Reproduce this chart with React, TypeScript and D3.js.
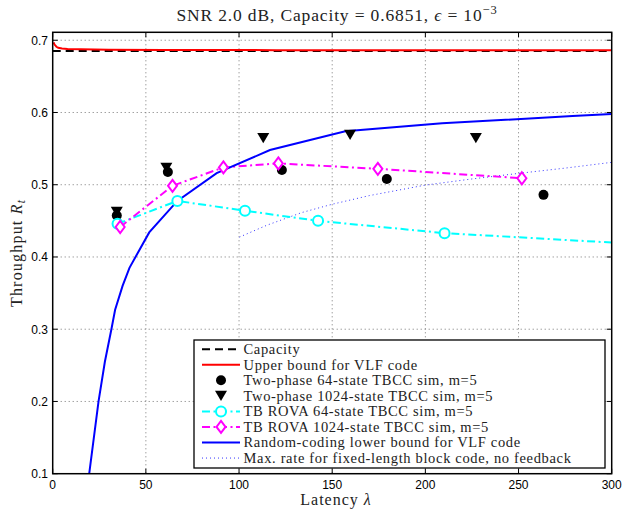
import React from "react";
import * as d3 from "d3";

// ---------- data ----------
const xTicks = [0, 50, 100, 150, 200, 250, 300];
const yTicks = [0.1, 0.2, 0.3, 0.4, 0.5, 0.6, 0.7];
const capacity = 0.6851;

const upperBoundX = [0.5, 1, 2, 3, 5, 8, 15, 30, 60, 120, 200, 300];
const upperBoundY = [0.697, 0.694, 0.691, 0.6895, 0.6885, 0.688, 0.6875, 0.687, 0.6866, 0.6863, 0.6861, 0.686];

const twoPhase64X = [34.4, 61.8, 123, 179.3, 263.4];
const twoPhase64Y = [0.4575, 0.5175, 0.5205, 0.508, 0.486];

const twoPhase1024X = [34.4, 61, 113, 159.6, 227.1];
const twoPhase1024Y = [0.4625, 0.5235, 0.5645, 0.569, 0.5645];

const rova64X = [34.8, 66.9, 103.2, 142.4, 210.3, 300];
const rova64Y = [0.446, 0.4776, 0.464, 0.45, 0.433, 0.42];
const rova64Markers = 5;

const rova1024X = [36.2, 64.3, 91.6, 121.1, 174.5, 251.8];
const rova1024Y = [0.4415, 0.4985, 0.524, 0.5295, 0.522, 0.509];

const rcBoundX = [18, 19.6, 24.6, 28, 31.5, 33.5, 37.5, 41.2, 51.8, 66.9, 88, 116.6, 157, 209, 279, 300];
const rcBoundY = [0.07, 0.1, 0.2, 0.255, 0.3, 0.327, 0.36, 0.385, 0.434, 0.4776, 0.516, 0.548, 0.574, 0.585, 0.595, 0.598];

const fixedLenX = [100.2, 115, 133.7, 150, 170, 200, 225, 251, 275, 300];
const fixedLenY = [0.4275, 0.444, 0.4615, 0.473, 0.485, 0.4995, 0.508, 0.516, 0.523, 0.531];

const legendLabels = [
  "Capacity",
  "Upper bound for VLF code",
  "Two-phase 64-state TBCC sim, m=5",
  "Two-phase 1024-state TBCC sim, m=5",
  "TB ROVA 64-state TBCC sim, m=5",
  "TB ROVA 1024-state TBCC sim, m=5",
  "Random-coding lower bound for VLF code",
  "Max. rate for fixed-length block code, no feedback",
];

// ---------- layout ----------
const W = 623;
const H = 510;
const L = 52.7;
const R = 611.7;
const T = 32.3;
const B = 473.7;

const SERIF = "'Liberation Serif', 'Times New Roman', serif";
const SANS = "'Liberation Sans', Arial, Helvetica, sans-serif";

const x = d3.scaleLinear().domain([0, 300]).range([L, R]);
const y = d3.scaleLinear().domain([0.1, 0.711]).range([B, T]);

const zip = (xs: number[], ys: number[]) => xs.map((v, i) => [v, ys[i]] as [number, number]);
const lineGen = d3
  .line<[number, number]>()
  .x((d) => x(d[0]))
  .y((d) => y(d[1]));

const DASH = "8 5";
const DASHDOT = "8 3.5 2 3.5";
const DOT = "1 3";

function Circle({ cx, cy, fill, stroke }: any) {
  return <circle cx={cx} cy={cy} r={5} fill={fill} stroke={stroke} strokeWidth={fill === "none" || fill === "white" ? 2 : 0} />;
}
function Tri({ cx, cy }: any) {
  const s = 6;
  const p = d3.path();
  p.moveTo(cx - s, cy - s * 0.85);
  p.lineTo(cx + s, cy - s * 0.85);
  p.lineTo(cx, cy + s * 0.85);
  p.closePath();
  return <path d={p.toString()} fill="black" />;
}
function Diamond({ cx, cy }: any) {
  const s = 6;
  const p = d3.path();
  p.moveTo(cx, cy - s);
  p.lineTo(cx + s * 0.75, cy);
  p.lineTo(cx, cy + s);
  p.lineTo(cx - s * 0.75, cy);
  p.closePath();
  return <path d={p.toString()} fill="white" stroke="#ff00ff" strokeWidth={2} />;
}

export default function App() {
  const lgX = 194;
  const lgY = 340;
  const lgW = 411;
  const lgH = 128;
  const rowY0 = 349.2;
  const rowStep = 15.55;
  const sx0 = 202;
  const sx1 = 240;
  const sxm = 221;
  const tx = 243.5;

  return (
    <div style={{ position: "absolute", left: 0, top: 0 }}>
      <svg width={W} height={H} style={{ display: "block", background: "white" }}>
        <defs>
          <clipPath id="plotclip">
            <rect x={L} y={T} width={R - L} height={B - T} />
          </clipPath>
        </defs>
        <rect x={0} y={0} width={W} height={H} fill="white" />

        {/* grid */}
        {xTicks.slice(1, -1).map((t) => (
          <line key={"gx" + t} x1={x(t)} x2={x(t)} y1={T} y2={B} stroke="#777" strokeWidth={1} strokeDasharray="1 3" />
        ))}
        {yTicks.slice(1).map((t) => (
          <line key={"gy" + t} x1={L} x2={R} y1={y(t)} y2={y(t)} stroke="#777" strokeWidth={1} strokeDasharray="1 3" />
        ))}

        <g clipPath="url(#plotclip)">
          <path d={lineGen([[0, capacity], [300, capacity]])!} fill="none" stroke="black" strokeWidth={2} strokeDasharray={DASH} />
          <path d={lineGen(zip(upperBoundX, upperBoundY))!} fill="none" stroke="#ff0000" strokeWidth={2} />
          <path d={lineGen(zip(fixedLenX, fixedLenY))!} fill="none" stroke="#3333ff" strokeWidth={1} strokeDasharray={DOT} />
          <path d={lineGen(zip(rova64X, rova64Y))!} fill="none" stroke="#00ffff" strokeWidth={2} strokeDasharray={DASHDOT} />
          <path d={lineGen(zip(rova1024X, rova1024Y))!} fill="none" stroke="#ff00ff" strokeWidth={2} strokeDasharray={DASHDOT} />
          <path d={lineGen(zip(rcBoundX, rcBoundY))!} fill="none" stroke="#0000ff" strokeWidth={2} />

          {zip(twoPhase1024X, twoPhase1024Y).map((d, i) => (
            <Tri key={"t" + i} cx={x(d[0])} cy={y(d[1])} />
          ))}
          {zip(twoPhase64X, twoPhase64Y).map((d, i) => (
            <Circle key={"c" + i} cx={x(d[0])} cy={y(d[1])} fill="black" />
          ))}
          {zip(rova64X, rova64Y)
            .slice(0, rova64Markers)
            .map((d, i) => (
              <Circle key={"o" + i} cx={x(d[0])} cy={y(d[1])} fill="white" stroke="#00ffff" />
            ))}
          {zip(rova1024X, rova1024Y).map((d, i) => (
            <Diamond key={"d" + i} cx={x(d[0])} cy={y(d[1])} />
          ))}
        </g>

        {/* axes box */}
        <rect x={L} y={T} width={R - L} height={B - T} fill="none" stroke="black" strokeWidth={1.5} />
        {xTicks.map((t) => (
          <g key={"xt" + t}>
            <line x1={x(t)} x2={x(t)} y1={B} y2={B - 5} stroke="black" strokeWidth={1} />
            <line x1={x(t)} x2={x(t)} y1={T} y2={T + 5} stroke="black" strokeWidth={1} />
            <text x={x(t)} y={489} textAnchor="middle" fontFamily={SANS} fontSize={12} fill="black">
              {t}
            </text>
          </g>
        ))}
        {yTicks.map((t) => (
          <g key={"yt" + t}>
            <line x1={L} x2={L + 5} y1={y(t)} y2={y(t)} stroke="black" strokeWidth={1} />
            <line x1={R} x2={R - 5} y1={y(t)} y2={y(t)} stroke="black" strokeWidth={1} />
            <text x={48} y={y(t) + 4.3} textAnchor="end" fontFamily={SANS} fontSize={12} fill="black">
              {t.toFixed(1)}
            </text>
          </g>
        ))}

        {/* title */}
        <text x={337} y={20.5} textAnchor="middle" fontFamily={SERIF} fontSize={17.5} letterSpacing={0.85} fill="#222">
          SNR 2.0 dB, Capacity = 0.6851, <tspan fontStyle="italic">ϵ</tspan> = 10
          <tspan fontSize={12.5} dy={-7}>−3</tspan>
        </text>

        {/* axis labels */}
        <text x={336} y={505} textAnchor="middle" fontFamily={SERIF} fontSize={16} letterSpacing={1} fill="#222">
          Latency <tspan fontStyle="italic">λ</tspan>
        </text>
        <text
          transform={`translate(21.5, ${(T + B) / 2}) rotate(-90)`}
          textAnchor="middle"
          fontFamily={SERIF}
          fontSize={16}
          letterSpacing={1.2}
          fill="#222"
        >
          Throughput <tspan fontStyle="italic">R</tspan>
          <tspan fontStyle="italic" fontSize={11.5} dy={3}>t</tspan>
        </text>

        {/* legend */}
        <rect x={lgX} y={lgY} width={lgW} height={lgH} fill="white" stroke="black" strokeWidth={1.3} />
        {legendLabels.map((lab, i) => {
          const ry = rowY0 + i * rowStep;
          let sample: any = null;
          if (i === 0)
            sample = <line x1={sx0} x2={sx1} y1={ry} y2={ry} stroke="black" strokeWidth={2} strokeDasharray={DASH} />;
          else if (i === 1) sample = <line x1={sx0} x2={sx1} y1={ry} y2={ry} stroke="#ff0000" strokeWidth={2} />;
          else if (i === 2) sample = <Circle cx={sxm} cy={ry} fill="black" />;
          else if (i === 3) sample = <Tri cx={sxm} cy={ry} />;
          else if (i === 4)
            sample = (
              <g>
                <line x1={sx0} x2={sx1} y1={ry} y2={ry} stroke="#00ffff" strokeWidth={2} strokeDasharray={DASHDOT} />
                <Circle cx={sxm} cy={ry} fill="white" stroke="#00ffff" />
              </g>
            );
          else if (i === 5)
            sample = (
              <g>
                <line x1={sx0} x2={sx1} y1={ry} y2={ry} stroke="#ff00ff" strokeWidth={2} strokeDasharray={DASHDOT} />
                <Diamond cx={sxm} cy={ry} />
              </g>
            );
          else if (i === 6) sample = <line x1={sx0} x2={sx1} y1={ry} y2={ry} stroke="#0000ff" strokeWidth={2} />;
          else sample = <line x1={sx0} x2={sx1} y1={ry} y2={ry} stroke="#3333ff" strokeWidth={1} strokeDasharray={DOT} />;
          return (
            <g key={"lg" + i}>
              {sample}
              <text x={tx} y={ry + 4.8} fontFamily={SERIF} fontSize={14.5} letterSpacing={0.66} fill="#222">
                {lab}
              </text>
            </g>
          );
        })}
      </svg>
    </div>
  );
}
